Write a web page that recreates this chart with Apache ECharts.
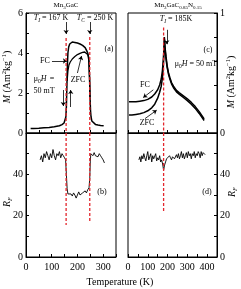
<!DOCTYPE html>
<html><head><meta charset="utf-8">
<script src="https://cdn.jsdelivr.net/npm/echarts/dist/echarts.min.js"></script>
<style>html,body{margin:0;padding:0;background:#fff}#c{width:241px;height:289px}</style>
</head><body><div id="c"></div>
<script>
// ---- Data: Mn3GaC (panel a) ----
const fcA_T = [18,30,50,70,90,110,130,140,148,152,155,157,159,161,163,166,170,175,180,190,200,210,220,230,236,240,243,245,247,249,251,253,256,260,270,280,290,302];
const fcA_M = [0.22,0.23,0.24,0.26,0.28,0.31,0.36,0.42,0.5,0.6,0.8,1.3,2.3,3.4,4.0,4.3,4.45,4.52,4.55,4.53,4.5,4.45,4.38,4.27,4.12,4.0,3.82,3.5,2.8,1.8,1.1,0.8,0.6,0.5,0.43,0.4,0.38,0.36];
const zfcA_T = [160,163,167,172,180,190,200,210,220,228,235,240,243,245,247,249];
const zfcA_M = [2.6,3.1,3.4,3.55,3.7,3.82,3.92,3.98,4.03,4.05,4.02,3.92,3.78,3.5,2.8,1.8];
// ---- Panel b: R_F of Mn3GaC ----
const rfB_T = [55,60,65,70,75,80,85,90,95,100,105,110,115,120,125,130,135,140,145,150,154,157,160,163,166,170,175,180,185,190,195,200,205,210,215,220,225,230,235,240,245,248,250,252,255,260,265,270,275,280,285,290,295,300,305];
const rfB_V = [47,49,46,50,48,51,49,47,50,48,52,49,47,50,49,51,48,50,49,48,47,40,33,30.5,31,30,30.5,29.5,31,30,28.5,30,31.5,30,29.5,31,30.5,32,31,32.5,33.5,38,46,50,50,49,50.5,49,49.5,48.5,50,49,48,47,45.5];
// ---- Panel c: Mn3GaC0.85N0.15 ----
const fcC_T = [5,20,40,60,80,100,120,135,150,160,168,174,178,181,183,184,187,192,198,205,212,220,230,245,260,280,300,320,340,360,385];
const fcC_M = [0.26,0.26,0.26,0.265,0.27,0.28,0.3,0.325,0.36,0.4,0.45,0.52,0.6,0.68,0.75,0.8,0.72,0.64,0.56,0.5,0.46,0.42,0.39,0.355,0.335,0.31,0.285,0.255,0.22,0.178,0.118];
const zfcC_T = [5,20,40,60,80,100,120,135,150,160,168,174,178,181,183,184,187,192,198,205,212,220,230,245,260,280,300,320,340,360,385];
const zfcC_M = [0.15,0.15,0.155,0.16,0.17,0.185,0.21,0.24,0.29,0.34,0.39,0.46,0.54,0.63,0.72,0.78,0.7,0.62,0.545,0.488,0.448,0.41,0.377,0.343,0.322,0.296,0.27,0.24,0.205,0.163,0.104];
// ---- Panel d: R_F of Mn3GaC0.85N0.15 ----
const rfD_T = [55,60,65,70,75,80,85,90,95,100,105,110,115,120,125,130,135,140,145,150,155,160,165,170,175,180,185,190,195,200,205,210,215,220,225,230,235,240,245,250,255,260,265,270,275,280,285,290,295,300,305,310,315,320,325,330,335,340,345,350,355,360,365,370,375,380,385,390];
const rfD_V = [47,48.5,46,49,47.5,50,48,46.5,49,51,47,48.5,50,46,49,47.5,48,50,46.5,48,47,49,46,47,45,42,44.5,46,47.5,48,47,49,48,47,48.5,49,47.5,48,49.5,48,50,47.5,49,51,48,50,47.5,49,50.5,48,51,49,50,47.5,50,49,51,48,50,49,51,50,48,51,49,50.5,51,49.5];
// ---- Transition markers (K) ----
const redA = [156, 248];
const redC = [180];
// ---- Axis ticks ----
const xTicksLeft = {min:0, max:350, interval:100};
const xTicksRight = {min:0, max:450, interval:100};

const zip = (a,b) => a.map((v,i)=>[v,b[i]]);
const FF = 'Liberation Serif';
const red = '#e3262c';

function xAx(grid, rng, showLabel){
  return {gridIndex:grid, type:'value', min:rng.min, max:rng.max, interval:rng.interval,
    axisLine:{show:true, lineStyle:{color:'#000', width:1}},
    axisTick:{show:true, inside:true, length:3, lineStyle:{color:'#000'}},
    minorTick:{show:true, splitNumber:2, length:3, lineStyle:{color:'#000'}},
    splitLine:{show:false},
    axisLabel:{show:showLabel, fontFamily:FF, fontSize:10, color:'#000', margin:5, showMaxLabel:false}};
}
function yAx(grid, min, max, interval, pos, fmt, minor){
  return {gridIndex:grid, type:'value', min, max, interval, position:pos,
    axisLine:{show:true, onZero:false, lineStyle:{color:'#000', width:1}},
    axisTick:{show:true, inside:true, length:3, lineStyle:{color:'#000'}},
    minorTick:{show:minor, splitNumber:2, length:3, lineStyle:{color:'#000'}},
    splitLine:{show:false},
    axisLabel:{fontFamily:FF, fontSize:10, color:'#000', margin:3, formatter:fmt}};
}
function curve(x,y,data,w){
  return {type:'line', xAxisIndex:x, yAxisIndex:y, data, symbol:'none', silent:true,
    lineStyle:{color:'#000', width:w||1.2}};
}
function redLine(x,y,t,top,bot){
  return {type:'line', xAxisIndex:x, yAxisIndex:y, data:[[t,top],[t,bot]], symbol:'none', silent:true,
    lineStyle:{color:red, width:1.3, type:[3,2]}, z:5};
}
function arrows(x,y,list){
  return {type:'line', xAxisIndex:x, yAxisIndex:y, data:[], silent:true,
    markLine:{silent:true, symbol:['none','arrow'], symbolSize:4, label:{show:false},
      lineStyle:{color:'#000', width:0.8, type:'solid'},
      data:list.map(a=>[{coord:[a[0],a[1]]},{coord:[a[2],a[3]]}])}};
}

const rich = {
  n:{fontFamily:FF, fontSize:8, lineHeight:11, verticalAlign:'middle', color:'#000'},
  i:{fontFamily:FF, fontSize:8, fontStyle:'italic', lineHeight:11, verticalAlign:'middle', color:'#000'},
  s:{fontFamily:FF, fontSize:5.5, lineHeight:11, verticalAlign:'bottom', color:'#000'},
  si:{fontFamily:FF, fontSize:5.5, fontStyle:'italic', lineHeight:11, verticalAlign:'bottom', color:'#000'},
  t:{fontFamily:FF, fontSize:7, lineHeight:10, verticalAlign:'middle', color:'#000'},
  ts:{fontFamily:FF, fontSize:5, lineHeight:10, verticalAlign:'bottom', color:'#000'},
  L:{fontFamily:FF, fontSize:10, lineHeight:13, verticalAlign:'middle', color:'#000'},
  Li:{fontFamily:FF, fontSize:10, fontStyle:'italic', lineHeight:13, verticalAlign:'middle', color:'#000'},
  Lsup:{fontFamily:FF, fontSize:6.5, lineHeight:13, verticalAlign:'top', color:'#000'},
  Lsub:{fontFamily:FF, fontSize:6.5, fontStyle:'italic', lineHeight:13, verticalAlign:'bottom', color:'#000'}
};
function txt(x,y,text,rot){
  return {type:'text', x, y, rotation:rot||0, silent:true, z:100,
    style:{text, rich, align:'center', verticalAlign:'middle', fill:'#000'}};
}

const option = {
  animation:false,
  backgroundColor:'#fff',
  grid:[
    {left:26, top:13, width:90, height:120, show:true, borderColor:'#000', borderWidth:1, outerBoundsMode:'none', containLabel:false},
    {left:26, top:133, width:90, height:124, show:true, borderColor:'#000', borderWidth:1, outerBoundsMode:'none', containLabel:false},
    {left:128, top:13, width:89, height:120, show:true, borderColor:'#000', borderWidth:1, outerBoundsMode:'none', containLabel:false},
    {left:128, top:133, width:89, height:124, show:true, borderColor:'#000', borderWidth:1, outerBoundsMode:'none', containLabel:false}
  ],
  xAxis:[ xAx(0,xTicksLeft,false), xAx(1,xTicksLeft,true), xAx(2,xTicksRight,false), xAx(3,xTicksRight,true) ],
  yAxis:[
    yAx(0,0,6,2,'left',v=>String(v),true),
    yAx(1,0,60,20,'left',v=>v===60?'':String(v),true),
    yAx(2,0,1,0.2,'right',v=>(Math.abs(v)<1e-9?'0':(Math.abs(v-1)<1e-9?'1':'')),false),
    yAx(3,0,60,20,'right',v=>v===60?'':String(v),true)
  ],
  series:[
    curve(0,0,zip(fcA_T,fcA_M),1.5),
    curve(0,0,zip(zfcA_T,zfcA_M),1.3),
    redLine(0,0,redA[0],4.75,0), redLine(0,0,redA[1],4.8,0),
    arrows(0,0,[[redA[0],5.55,redA[0],4.95],[redA[1],5.55,redA[1],4.95],[101,3.6,159,3.6],[200,3.0,216,3.85],[145,2.15,145,1.35],[174,1.3,174,2.15]]),
    curve(1,1,zip(rfB_T,rfB_V),0.9),
    redLine(1,1,redA[0],60,15.5), redLine(1,1,redA[1],60,16.5),
    curve(2,2,zip(fcC_T,fcC_M),1.5),
    curve(2,2,zip(zfcC_T,zfcC_M),1.5),
    redLine(2,2,redC[0],0.88,0),
    arrows(2,2,[[196,0.86,196,0.74],[128,0.36,77,0.295],[86,0.12,145,0.19]]),
    curve(3,3,zip(rfD_T,rfD_V),0.9),
    redLine(3,3,redC[0],60,22)
  ],
  graphic:[
    txt(66,5,'{t|Mn}{ts|3}{t|GaC}'),
    txt(178,5,'{t|Mn}{ts|3}{t|GaC}{ts|0.85}{t|N}{ts|0.15}'),
    txt(51,18,'{i|T}{si|I}{n| = 167 K}'),
    txt(95,18,'{i|T}{si|C}{n| = 250 K}'),
    txt(176,19,'{i|T}{si|I}{n| = 185K}'),
    txt(109,49,'{n|(a)}'),
    txt(102,192,'{n|(b)}'),
    txt(208,50,'{n|(c)}'),
    txt(207,192,'{n|(d)}'),
    txt(45,61,'{n|FC}'),
    txt(78,80,'{n|ZFC}'),
    txt(44,79,'{n|μ}{s|0}{i|H} {n|=}'),
    txt(44,91,'{n|50 mT}'),
    txt(196,64,'{n|μ}{s|0}{i|H}{n| = 50 mT}'),
    txt(145,85,'{n|FC}'),
    txt(147,123,'{n|ZFC}'),
    txt(120,282,'{L|Temperature (K)}'),
    txt(7,77,'{Li|M}{L| (Am}{Lsup|2}{L|kg}{Lsup|−1}{L|)}',Math.PI/2),
    txt(231,82,'{Li|M}{L| (Am}{Lsup|2}{L|kg}{Lsup|−1}{L|)}',Math.PI/2),
    txt(7,202,'{Li|R}{Lsub|F}',Math.PI/2),
    txt(232,192,'{Li|R}{Lsub|F}',Math.PI/2)
  ]
};
const chart = echarts.init(document.getElementById('c'), null, {renderer:'canvas'});
chart.setOption(option);
</script>
</body></html>
